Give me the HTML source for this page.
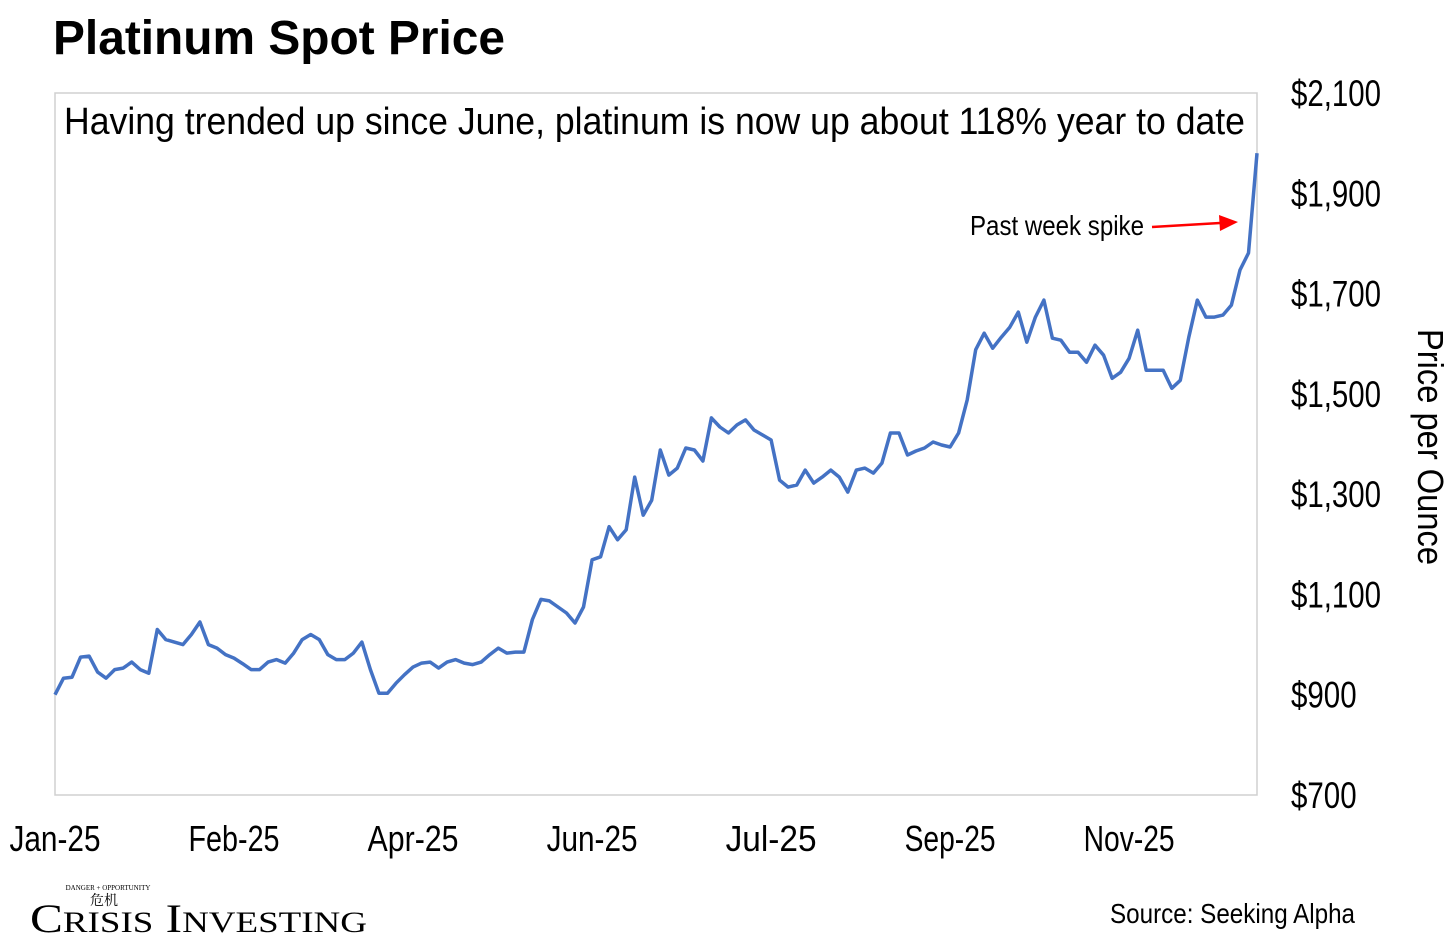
<!DOCTYPE html>
<html><head><meta charset="utf-8"><style>
html,body{margin:0;padding:0;background:#fff;}
svg{display:block;font-family:"Liberation Sans Narrow","Liberation Sans",sans-serif;}
</style></head><body>
<svg id="chart" width="1456" height="949" viewBox="0 0 1456 949" xmlns="http://www.w3.org/2000/svg">
<text x="53" y="54" font-family="Liberation Sans, sans-serif" font-weight="bold" font-size="48" textLength="452" lengthAdjust="spacingAndGlyphs">Platinum Spot Price</text>
<rect x="55" y="93" width="1202" height="702" fill="none" stroke="#d0d0d0" stroke-width="1.5"/>
<text x="64" y="134" font-size="38" textLength="1181" lengthAdjust="spacingAndGlyphs">Having trended up since June, platinum is now up about 118% year to date</text>
<g id="yticks"></g>
<g id="xticks"></g>
<path id="line" fill="none" stroke="#4472C4" stroke-width="3.5" stroke-linejoin="round"/>
<text transform="translate(1418,447) rotate(90)" text-anchor="middle" font-size="36" textLength="236" lengthAdjust="spacingAndGlyphs">Price per Ounce</text>
<text x="970" y="235" font-size="28" textLength="174" lengthAdjust="spacingAndGlyphs">Past week spike</text>
<line x1="1152" y1="227" x2="1220" y2="223" stroke="#f00" stroke-width="2.5"/>
<polygon points="1238,222 1219,215 1220,231" fill="#f00"/>
<g>
<text x="108" y="890" font-family="Liberation Serif, serif" font-size="7" text-anchor="middle">DANGER + OPPORTUNITY</text>
<text x="104" y="905" font-family="Noto Serif CJK SC, serif" font-size="14" text-anchor="middle">危机</text>
<text x="30" y="932" font-family="Liberation Serif, serif" font-size="40" textLength="337" lengthAdjust="spacingAndGlyphs">C<tspan font-size="30">RISIS</tspan> I<tspan font-size="30">NVESTING</tspan></text>
</g>
<text x="1355" y="923" text-anchor="end" font-size="28" textLength="245" lengthAdjust="spacingAndGlyphs">Source: Seeking Alpha</text>
</svg>
<script>
const prices = [900,933,935,975,977,945,933,950,953,965,950,943,1030,1010,1005,1000,1020,1045,1000,993,980,973,962,950,950,965,970,963,983,1010,1020,1010,980,970,970,983,1005,950,903,903,923,940,955,963,965,953,965,970,963,960,965,980,993,983,985,985,1050,1090,1087,1075,1063,1043,1075,1169,1175,1235,1209,1229,1334,1258,1288,1388,1338,1352,1392,1388,1366,1452,1434,1422,1438,1448,1428,1418,1408,1328,1314,1318,1348,1322,1334,1348,1334,1304,1348,1352,1342,1362,1422,1422,1378,1386,1392,1404,1398,1394,1422,1488,1588,1621,1591,1613,1633,1663,1603,1653,1687,1611,1607,1583,1583,1563,1597,1577,1531,1543,1571,1627,1547,1547,1547,1511,1527,1613,1687,1653,1653,1657,1677,1747,1781,1980];
const xLabels = ["Jan-25","Feb-25","Apr-25","Jun-25","Jul-25","Sep-25","Nov-25"];
const xLabelIndex = [0,21,42,63,84,105,126];
const yTicks = [700,900,1100,1300,1500,1700,1900,2100];
const X0=55,X1=1257,Y0=795,Y1=93,VMIN=700,VMAX=2100;
function xs(i){return X0+(X1-X0)*i/(prices.length-1);}
function ys(v){return Y0-(v-VMIN)/(VMAX-VMIN)*(Y0-Y1);}
const NS="http://www.w3.org/2000/svg";
let d="";
prices.forEach((v,i)=>{d+=(i?"L":"M")+xs(i).toFixed(1)+","+ys(v).toFixed(1);});
document.getElementById("line").setAttribute("d",d);
const yg=document.getElementById("yticks");
yTicks.forEach(v=>{
  const t=document.createElementNS(NS,"text");
  
  
  const s="$"+v.toLocaleString("en-US");
  const commas=(s.match(/,/g)||[]).length;
  t.setAttribute("x",1291);t.setAttribute("y",ys(v)+13);
  t.setAttribute("font-size","37");
  t.setAttribute("textLength",((s.length-commas)*16.4+commas*8).toFixed(1));
  t.setAttribute("lengthAdjust","spacingAndGlyphs");
  t.textContent=s;
  yg.appendChild(t);
});
const xg=document.getElementById("xticks");
xLabels.forEach((s,k)=>{
  const t=document.createElementNS(NS,"text");
  
  
  t.setAttribute("x",xs(xLabelIndex[k])-45.5);t.setAttribute("y",851);
  t.setAttribute("font-size","36");
  t.setAttribute("textLength","91");
  t.setAttribute("lengthAdjust","spacingAndGlyphs");
  t.textContent=s;
  xg.appendChild(t);
});
</script>
</body></html>
